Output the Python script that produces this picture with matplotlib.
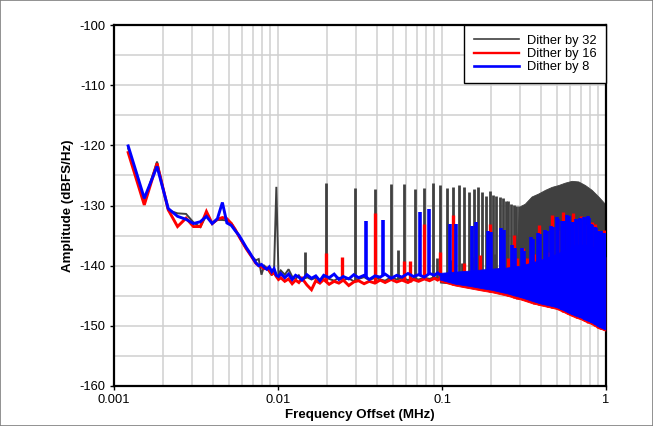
import numpy as np
import matplotlib
matplotlib.use("Agg")
import matplotlib.pyplot as plt
from matplotlib.lines import Line2D
from matplotlib.patches import Rectangle

plt.rcParams['font.family'] = ['Liberation Sans', 'DejaVu Sans']
plt.rcParams['axes.unicode_minus'] = False

# ---------------------------------------------------------------------------
# Low-frequency FFT bins (MHz) and the three spectra (dBFS/Hz)
# ---------------------------------------------------------------------------
lf_freq = [0.00122, 0.00153, 0.00183, 0.00214, 0.00244, 0.00275, 0.00305, 0.00336,
           0.00366, 0.00397, 0.00427, 0.00458, 0.00488, 0.00519, 0.00549, 0.00580,
           0.00610, 0.00641, 0.00671, 0.00702, 0.00732, 0.00763, 0.00793, 0.00824,
           0.00854, 0.00885, 0.00916, 0.00946, 0.00977, 0.01007]
lf_d32 = [-120.5, -129.3, -122.7, -130.8, -131.3, -131.4, -132.8, -133.6,
          -131.6, -133.0, -132.4, -132.4, -132.5, -132.9, -134.0, -135.2,
          -136.3, -137.2, -138.0, -138.6, -139.1, -138.9, -141.5, -140.0,
          -140.4, -141.0, -141.6, -140.8, -126.9, -141.5]
lf_d16 = [-121.2, -129.9, -123.0, -130.7, -133.5, -132.1, -133.5, -133.5,
          -131.0, -133.0, -132.3, -132.0, -132.2, -133.0, -134.0, -135.2,
          -136.2, -137.2, -138.0, -138.8, -139.6, -140.0, -140.2, -140.5,
          -140.4, -140.8, -141.4, -141.2, -141.8, -142.3]
lf_d8 = [-120.1, -128.8, -123.5, -130.5, -131.8, -132.3, -133.0, -132.7,
         -131.8, -133.0, -132.2, -129.5, -132.9, -133.3, -134.2, -135.0,
         -136.0, -137.0, -137.8, -138.7, -139.5, -140.0, -139.8, -140.3,
         -140.6, -140.2, -141.0, -140.5, -141.6, -141.8]

# Noise floor between 10 kHz and 100 kHz
nf_freq = [0.0104, 0.0110, 0.0116, 0.0122, 0.0128, 0.0134, 0.0140, 0.0150, 0.0160,
           0.0170, 0.0180, 0.0190, 0.0205, 0.0220, 0.0235, 0.0250, 0.0270, 0.0290,
           0.0310, 0.0335, 0.0360, 0.0390, 0.0420, 0.0450, 0.0490, 0.0530, 0.0570,
           0.0620, 0.0670, 0.0720, 0.0780, 0.0840, 0.0900, 0.0940, 0.0970]
nf_d32 = [-140.8, -141.5, -140.6, -141.8, -142.2, -141.6, -142.4, -141.9, -142.3,
          -142.0, -142.6, -141.8, -142.2, -142.5, -142.0, -142.4, -142.1, -142.6,
          -142.2, -141.9, -142.4, -142.0, -142.3, -142.5, -141.9, -142.3, -142.0,
          -142.4, -142.1, -142.3, -142.0, -142.2, -141.9, -142.2, -142.0]
nf_d16 = [-142.0, -142.6, -142.2, -143.0, -142.4, -142.8, -142.1, -143.2, -144.0,
          -142.5, -142.9, -142.3, -143.1, -142.6, -142.9, -142.4, -143.3, -142.7,
          -142.5, -143.0, -142.6, -142.9, -142.4, -142.8, -142.3, -142.7, -142.4,
          -142.8, -142.3, -142.6, -142.2, -142.5, -142.1, -142.4, -142.2]
nf_d8 = [-141.3, -142.0, -141.4, -142.3, -141.6, -141.9, -142.4, -141.5, -142.1,
         -141.7, -142.5, -141.6, -142.0, -141.4, -142.3, -141.8, -142.2, -141.5,
         -142.0, -141.6, -142.3, -141.7, -141.9, -141.4, -142.1, -141.6, -141.9,
         -141.3, -141.8, -141.5, -141.9, -141.3, -141.6, -141.2, -141.5]

# Dense region above 100 kHz: lower / upper edge of the noise band
band_freq = [0.097, 0.12, 0.15, 0.18, 0.20, 0.25, 0.28, 0.30, 0.35, 0.40, 0.45,
             0.50, 0.55, 0.60, 0.65, 0.70, 0.75, 0.80, 0.85, 0.90, 0.95, 0.99]
band_d16_lo = [-142.6, -143.3, -143.8, -144.2, -144.4, -145.0, -145.4, -145.6, -146.2,
               -146.6, -146.9, -147.2, -147.7, -148.2, -148.6, -148.9, -149.3, -149.6,
               -150.0, -150.4, -150.6, -150.8]
band_d16_hi = [-141.8, -141.3, -141.0, -140.8, -140.6, -140.3, -140.1, -140.0, -139.5,
               -139.0, -138.5, -138.0, -137.5, -137.0, -136.8, -136.8, -136.8, -137.0,
               -137.3, -137.8, -138.2, -138.6]
band_d8_lo = [-142.3, -143.0, -143.4, -143.8, -144.0, -144.6, -145.0, -145.2, -145.8,
              -146.3, -146.6, -146.9, -147.4, -147.9, -148.3, -148.6, -149.0, -149.3,
              -149.7, -150.1, -150.4, -150.6]
band_d8_hi = [-141.2, -141.0, -140.8, -140.6, -140.5, -140.3, -140.1, -140.0, -139.5,
              -139.0, -138.5, -138.0, -137.5, -137.0, -136.5, -136.5, -136.5, -136.8,
              -137.0, -137.5, -138.0, -138.5]

# Dither-by-32 spur envelope where the spurs merge into a solid band
env_freq = [0.097, 0.15, 0.20, 0.25, 0.280, 0.287, 0.294, 0.30, 0.32, 0.352, 0.387,
            0.425, 0.467, 0.512, 0.562, 0.618, 0.678, 0.745, 0.818, 0.898, 0.962, 0.99]
env_d32_lo = [-142.8, -143.2, -143.6, -144.0, -144.2, -144.3, -144.3, -144.4, -144.6,
              -145.0, -145.3, -145.6, -146.0, -146.3, -146.6, -147.0, -147.4, -147.8,
              -148.2, -148.6, -149.0, -149.2]
env_d32_hi = [-141.6, -141.4, -141.2, -141.0, -141.0, -136.0, -131.0, -130.1, -129.7,
              -128.5, -128.0, -127.4, -126.9, -126.6, -126.2, -125.9, -126.0, -126.6,
              -127.4, -128.5, -129.4, -129.8]

# Discrete spurs (MHz, dBFS/Hz)
spur_d32_freq = [0.01953, 0.0293, 0.0391, 0.0488, 0.0586, 0.0684, 0.0781, 0.0879,
                 0.0977, 0.1074, 0.1172, 0.1270, 0.1367, 0.1465, 0.1563, 0.1660,
                 0.1758, 0.1855, 0.1953, 0.2051, 0.2148, 0.2246, 0.2344, 0.2441,
                 0.2539, 0.2637, 0.2734, 0.2832, 0.2930,
                 0.0147, 0.0244, 0.0537, 0.0928, 0.1123, 0.1318, 0.1514, 0.1709,
                 0.1904, 0.2100, 0.2295, 0.2490, 0.2686]
spur_d32_level = [-126.3, -127.1, -127.3, -126.4, -126.5, -127.3, -127.1, -126.3,
                  -126.6, -127.1, -126.9, -126.6, -126.9, -127.7, -127.3, -126.9,
                  -127.7, -128.4, -127.6, -128.2, -128.5, -128.6, -128.8, -129.2,
                  -129.3, -129.7, -129.9, -130.0, -130.1,
                  -137.7, -139.5, -137.4, -138.8, -139.0, -139.5, -138.5, -138.5,
                  -138.0, -138.0, -137.5, -137.5, -137.0]

spur_d16_freq = [0.0195, 0.0244, 0.0391, 0.0586, 0.0635, 0.0781, 0.0977, 0.1172,
                 0.1367, 0.1709, 0.1953, 0.2537, 0.2734, 0.2880, 0.3285, 0.3655,
                 0.3906, 0.4450, 0.4688, 0.5469, 0.6250, 0.7031, 0.8203, 0.8984,
                 0.9766, 0.3125, 0.4297, 0.5078, 0.5859, 0.6641, 0.7422, 0.7813,
                 0.8594, 0.9375]
spur_d16_level = [-137.9, -138.6, -131.3, -139.2, -139.2, -133.1, -137.8, -131.5,
                  -139.6, -138.2, -133.1, -138.8, -134.9, -138.8, -138.8, -138.0,
                  -133.2, -137.8, -131.6, -131.0, -131.2, -131.7, -132.7, -134.0,
                  -134.0, -137.0, -136.0, -134.0, -133.5, -133.0, -133.0, -132.5,
                  -133.0, -134.5]

spur_d8_freq = [0.0342, 0.0439, 0.0732, 0.0830, 0.1123, 0.1221, 0.1514, 0.1611,
                0.1904, 0.2002, 0.2295, 0.2393, 0.2686, 0.2783, 0.3076, 0.3174,
                0.3467, 0.3564, 0.3857, 0.3955, 0.4248, 0.4346, 0.4639, 0.4736,
                0.5029, 0.5127, 0.5420, 0.5518, 0.5811, 0.5908, 0.6201, 0.6299,
                0.6592, 0.6689, 0.6982, 0.7080, 0.7373, 0.7471, 0.7764, 0.7861,
                0.8154, 0.8252, 0.8545, 0.8643, 0.8936, 0.9033, 0.9326, 0.9424,
                0.9717, 0.9814]
spur_d8_level = [-132.5, -132.4, -131.1, -130.6, -133.0, -133.0, -133.4, -132.8,
                 -134.2, -134.4, -133.7, -134.0, -136.5, -137.0, -137.0, -137.5,
                 -135.2, -135.5, -134.6, -134.8, -134.0, -134.2, -133.4, -133.6,
                 -131.9, -132.2, -132.5, -132.6, -131.6, -131.8, -132.8, -132.8,
                 -132.2, -132.4, -132.0, -132.2, -131.9, -132.0, -131.8, -132.0,
                 -133.0, -133.2, -133.6, -133.8, -134.2, -134.4, -134.3, -134.5,
                 -134.6, -134.8]

labels = ["Dither by 32", "Dither by 16", "Dither by 8"]
colors = ["#404040", "#ff0000", "#0000ff"]
line_widths = [1.4, 2.1, 2.1]
spur_widths = [2.0, 2.4, 2.6]

x_ticks = [0.001, 0.01, 0.1, 1]
x_tick_labels = ["0.001", "0.01", "0.1", "1"]
y_ticks = [-160, -150, -140, -130, -120, -110, -100]

# ---------------------------------------------------------------------------
fig = plt.figure(figsize=(6.53, 4.26), dpi=100)
ax = fig.add_axes([114 / 653, 1 - 386 / 426, (606 - 114) / 653, (386 - 25) / 426])
fig.patches.append(Rectangle((0, 0), 1, 1, transform=fig.transFigure, fill=False,
                             edgecolor="#7f7f7f", lw=1.2, zorder=10))


def draw_series(lf, nf, fb_freq, fb_lo, fb_hi, sf, sl, color, lw, slw, z):
    ax.plot(lf_freq + nf_freq, lf + nf, color=color, lw=lw, zorder=z,
            solid_joinstyle="miter")
    ax.fill_between(fb_freq, fb_lo, fb_hi, color=color, lw=0.6, zorder=z)
    base_f = nf_freq + fb_freq[1:]
    base_v = nf + fb_lo[1:]
    base = np.interp(np.log10(sf), np.log10(base_f), base_v)
    ax.vlines(sf, base, sl, color=color, lw=slw, zorder=z, capstyle="butt")


draw_series(lf_d32, nf_d32, env_freq, env_d32_lo, env_d32_hi,
            spur_d32_freq, spur_d32_level, colors[0], line_widths[0], spur_widths[0], 2)
draw_series(lf_d16, nf_d16, band_freq, band_d16_lo, band_d16_hi,
            spur_d16_freq, spur_d16_level, colors[1], line_widths[1], spur_widths[1], 3)
draw_series(lf_d8, nf_d8, band_freq, band_d8_lo, band_d8_hi,
            spur_d8_freq, spur_d8_level, colors[2], line_widths[2], spur_widths[2], 4)

ax.set_xscale("log")
ax.set_xlim(0.001, 1)
ax.set_ylim(-160, -100)
ax.set_xticks(x_ticks)
ax.set_xticklabels(x_tick_labels)
ax.set_yticks(y_ticks)
ax.set_yticks(np.arange(-155, -100, 10), minor=True)
ax.grid(True, which="both", color="#d0d0d0", lw=1.1, zorder=0)
ax.set_axisbelow(True)
ax.tick_params(which="major", length=3, width=1, labelsize=9.3, pad=3)
ax.tick_params(which="minor", length=0)
for sp in ax.spines.values():
    sp.set_linewidth(1.6)

ax.set_xlabel("Frequency Offset (MHz)", fontsize=9.6, fontweight="bold", labelpad=2)
ax.set_ylabel("Amplitude (dBFS/Hz)", fontsize=9.6, fontweight="bold", labelpad=4)

handles = [Line2D([], [], color=c, lw=w) for c, w in zip(colors, [1.2, 1.7, 1.9])]
leg = ax.legend(handles, labels, loc="upper right", borderaxespad=0, fontsize=9.3,
                frameon=True, fancybox=False, edgecolor="black", framealpha=1,
                handlelength=3.5, labelspacing=0.1, borderpad=0.75, handletextpad=0.6)
leg.get_frame().set_linewidth(1.0)
leg.set_zorder(20)

fig.savefig("out.png", dpi=100)
